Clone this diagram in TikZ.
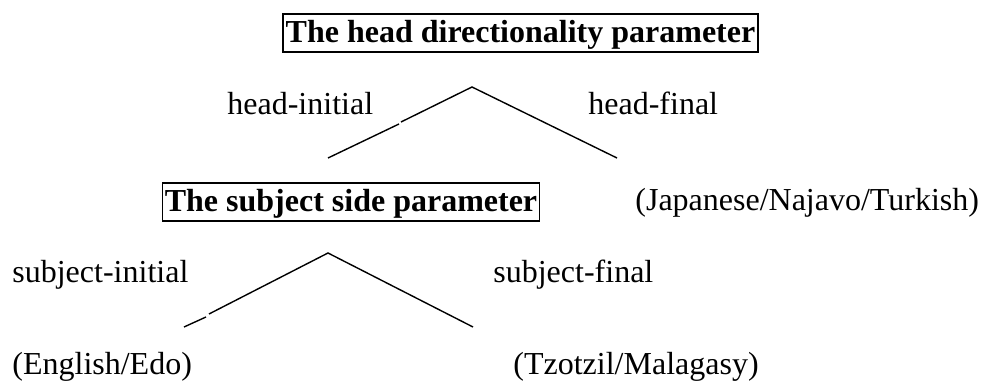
\documentclass[tikz,border=0pt]{standalone}
\usepackage{fontspec}
\setmainfont{Liberation Serif}
\begin{document}
\begin{tikzpicture}[x=0.5pt,y=-0.5pt,
  lbl/.style={inner sep=0pt, anchor=base west, font=\fontsize{16}{19}\selectfont},
  param/.style={draw, line width=0.85pt, inner xsep=1.2pt, inner ysep=0pt, text height=14.5pt, text depth=4.5pt, anchor=base, font=\fontsize{16}{19}\selectfont\bfseries},
  branch/.style={line width=0.7pt}]
\useasboundingbox (0,0) rectangle (982,385);
% top parameter
\node[param] (hdp) at (520.5,43) {The head directionality parameter};
\coordinate (ta) at (472,87);
\coordinate (tl) at (328,158);
\coordinate (tlb1) at (399,124);
\coordinate (tlb2) at (401,122);
\coordinate (tr) at (617,158);
\node[lbl] (hi) at (227,115) {head-initial};
\node[lbl] (hf) at (588,115) {head-final};
\draw[branch] (tl) -- (tlb1);
\draw[branch] (tlb2) -- (ta) -- (tr);
% second parameter
\node[param] (ssp) at (351,212) {The subject side parameter};
\node[lbl] (jnt) at (635,211) {(Japanese/Najavo/Turkish)};
\coordinate (sa) at (328,253);
\coordinate (sl) at (184,327);
\coordinate (slb1) at (206,317);
\coordinate (slb2) at (209,314);
\coordinate (sr) at (473,327);
\node[lbl] (si) at (12,283) {subject-initial};
\node[lbl] (sf) at (493,283) {subject-final};
\draw[branch] (sl) -- (slb1);
\draw[branch] (slb2) -- (sa) -- (sr);
\node[lbl] (ee) at (12,375) {(English/Edo)};
\node[lbl] (tm) at (513,375) {(Tzotzil/Malagasy)};
\end{tikzpicture}
\end{document}
